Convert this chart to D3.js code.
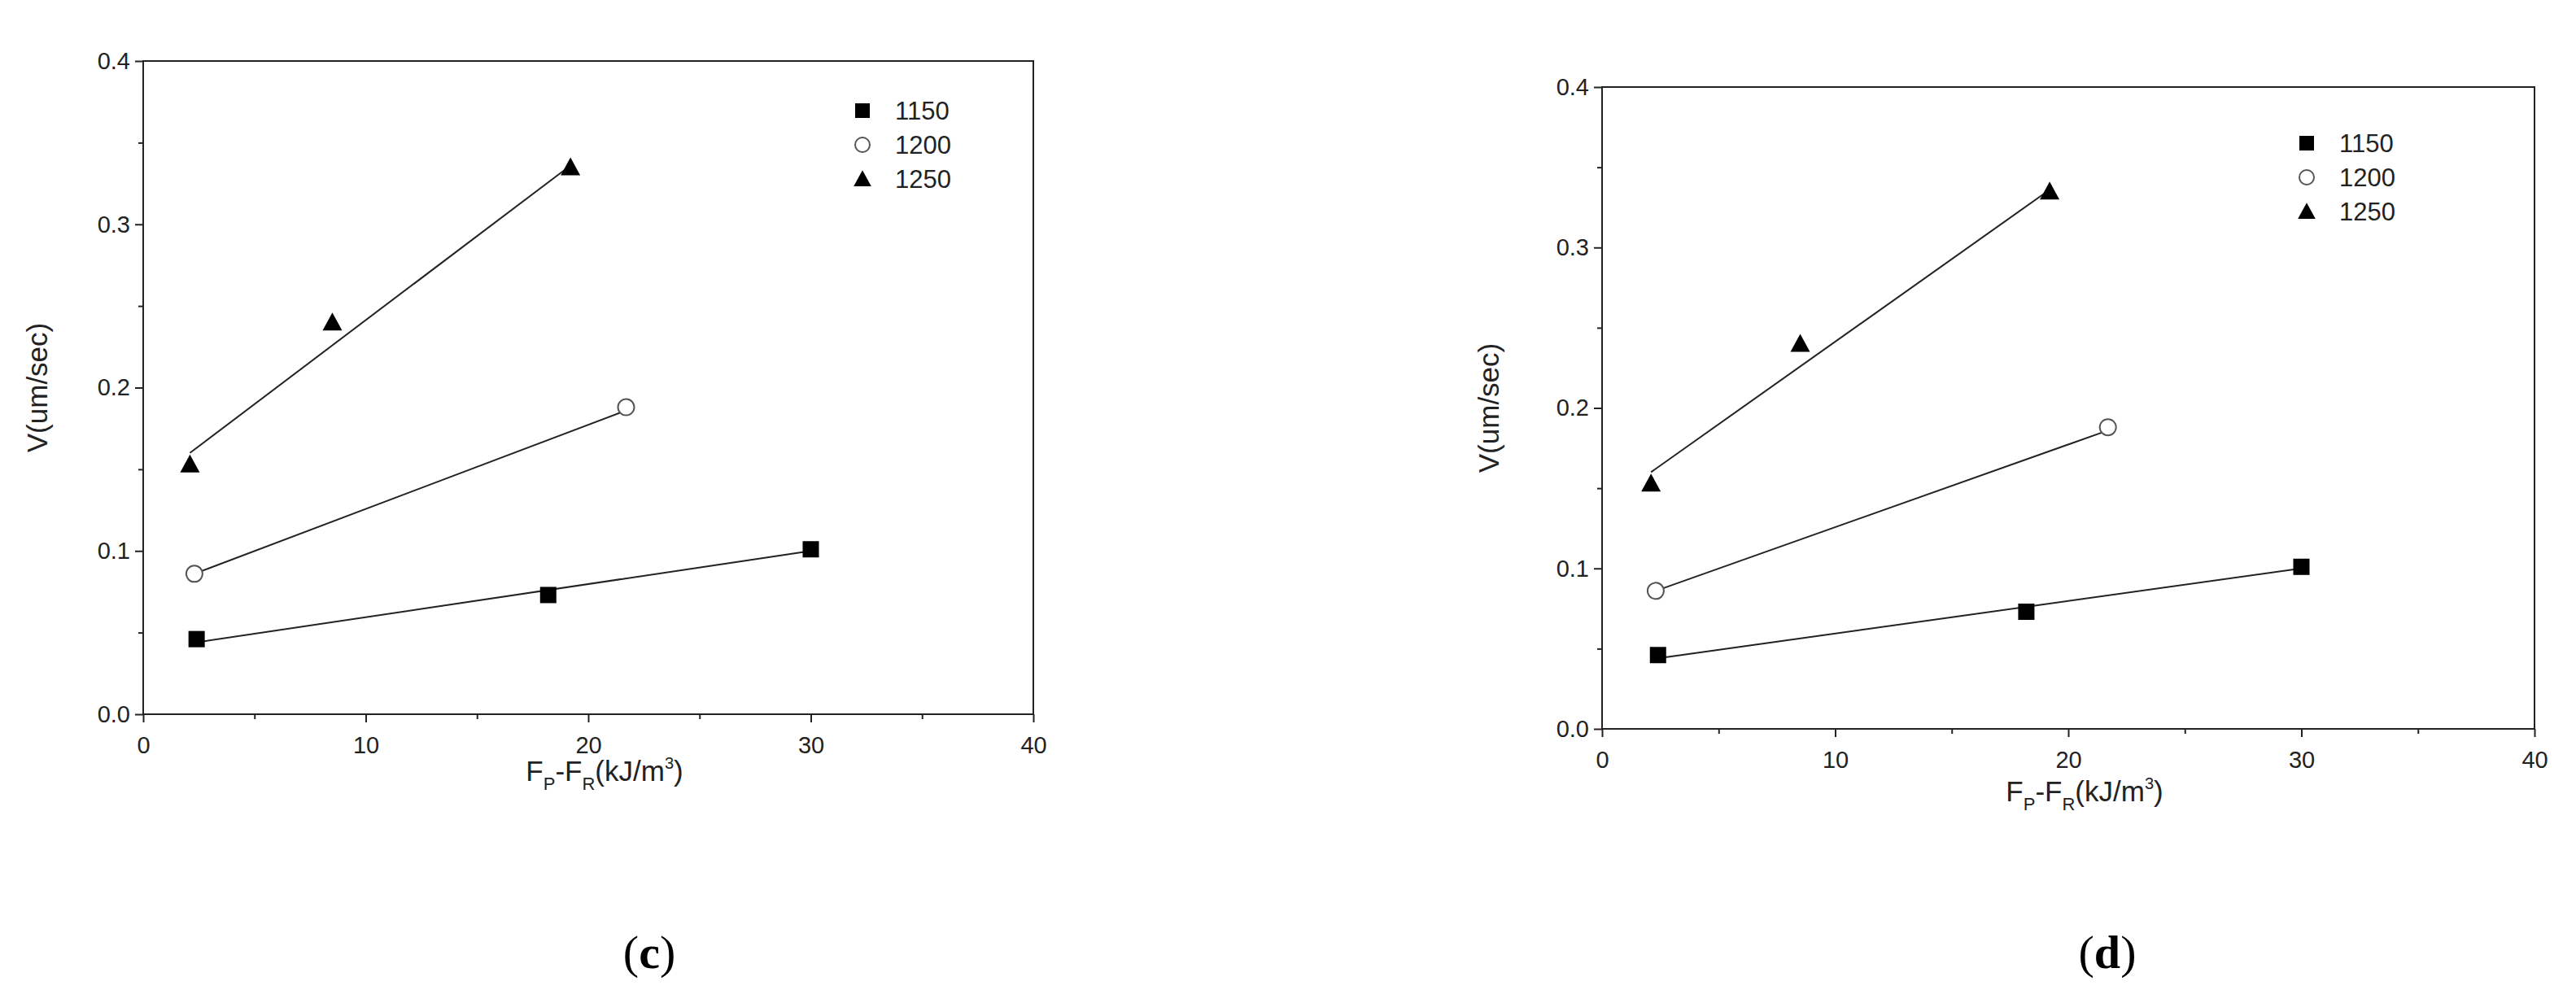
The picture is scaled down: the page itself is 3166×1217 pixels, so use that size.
<!DOCTYPE html><html><head><meta charset="utf-8">
<script src="https://cdn.jsdelivr.net/npm/d3@7"></script>
<style>body{margin:0;background:#fff}</style></head><body>
<svg id="c" width="3166" height="1217"></svg>
<script>
const seriesNames=["1150","1200","1250"];
const s1150=[[2.4,0.046],[18.2,0.073],[30,0.101]];
const s1200=[[2.3,0.086],[21.7,0.188]];
const s1250=[[2.1,0.153],[8.5,0.240],[19.2,0.335]];
const fit1150=[[2.4,0.044],[30,0.100]];
const fit1200=[[2.3,0.086],[21.7,0.186]];
const fit1250=[[2.1,0.160],[19.2,0.336]];
const xTicks=[0,10,20,30,40];
const yTicks=[0.0,0.1,0.2,0.3,0.4];
const panels=[
 {x0:176,x1:1270,y0:878,y1:75,label:"c",lx:798,ly:1190,legX:1060,legY:136,titleY:960,ytX:58},
 {x0:1969,x1:3115,y0:896,y1:107,label:"d",lx:2590,ly:1190,legX:2835,legY:176,titleY:985,ytX:1842}
];
const svg=d3.select("#c");
const font="Arial, Liberation Sans, sans-serif";
function marker(g,type,x,y,s){
 if(type===0) g.append("rect").attr("x",x-s).attr("y",y-s).attr("width",2*s).attr("height",2*s).attr("fill","#000");
 else if(type===1) g.append("circle").attr("cx",x).attr("cy",y).attr("r",s).attr("fill","#fff").attr("stroke","#555").attr("stroke-width",2);
 else g.append("path").attr("d",`M${x},${y-s*1.2}L${x+s*1.2},${y+s}L${x-s*1.2},${y+s}Z`).attr("fill","#000");
}
panels.forEach(p=>{
 const g=svg.append("g");
 const x=d3.scaleLinear().domain([0,40]).range([p.x0,p.x1]);
 const y=d3.scaleLinear().domain([0,0.4]).range([p.y0,p.y1]);
 g.append("rect").attr("x",p.x0).attr("y",p.y1).attr("width",p.x1-p.x0).attr("height",p.y0-p.y1).attr("fill","none").attr("stroke","#222").attr("stroke-width",2);
 const xa=g.append("g").attr("transform",`translate(0,${p.y0})`).call(d3.axisBottom(x).tickValues(xTicks).tickSize(10).tickSizeOuter(0).tickFormat(d3.format("d")));
 const xm=g.append("g").attr("transform",`translate(0,${p.y0})`).call(d3.axisBottom(x).tickValues([5,15,25,35]).tickSize(6).tickFormat(""));
 const ya=g.append("g").attr("transform",`translate(${p.x0},0)`).call(d3.axisLeft(y).tickValues(yTicks).tickSize(10).tickSizeOuter(0).tickFormat(d3.format(".1f")));
 const ym=g.append("g").attr("transform",`translate(${p.x0},0)`).call(d3.axisLeft(y).tickValues([0.05,0.15,0.25,0.35]).tickSize(6).tickFormat(""));
 [xa,xm,ya,ym].forEach(a=>{a.select(".domain").remove();a.selectAll("line").attr("stroke","#222").attr("stroke-width",2);a.selectAll("text").attr("font-family",font).attr("font-size",29).attr("fill","#222");});
 xa.selectAll("text").attr("dy","1.2em");
 ya.selectAll("text").attr("x",-16);
 const line=d3.line().x(d=>x(d[0])).y(d=>y(d[1]));
 [fit1150,fit1200,fit1250].forEach(f=>g.append("path").attr("d",line(f)).attr("stroke","#222").attr("stroke-width",2).attr("fill","none"));
 [s1150,s1200,s1250].forEach((s,i)=>s.forEach(d=>marker(g,i,x(d[0]),y(d[1]),10)));
 seriesNames.forEach((n,i)=>{
  const yy=p.legY+i*42;
  marker(g,i,p.legX,yy,9);
  g.append("text").attr("x",p.legX+40).attr("y",yy+11).text(n).attr("font-family",font).attr("font-size",31).attr("fill","#222");
 });
 const t=g.append("text").attr("x",(p.x0+p.x1)/2+20).attr("y",p.titleY).attr("text-anchor","middle").attr("font-family",font).attr("font-size",35).attr("fill","#222");
 t.append("tspan").text("F");t.append("tspan").text("P").attr("font-size",22).attr("dy",11);
 t.append("tspan").text("-F").attr("dy",-11);t.append("tspan").text("R").attr("font-size",22).attr("dy",11);
 t.append("tspan").text("(kJ/m").attr("dy",-11);t.append("tspan").text("3").attr("font-size",20).attr("dy",-15);
 t.append("tspan").text(")").attr("dy",15);
 g.append("text").attr("transform",`translate(${p.ytX},${(p.y0+p.y1)/2}) rotate(-90)`).attr("text-anchor","middle").attr("font-family",font).attr("font-size",35).attr("fill","#222").text("V(um/sec)");
 const L=g.append("text").attr("x",p.lx).attr("y",p.ly).attr("text-anchor","middle").attr("font-family","Liberation Serif, serif").attr("font-size",58);
 L.append("tspan").text("(");L.append("tspan").attr("font-weight","bold").text(p.label);L.append("tspan").text(")");
});
</script></body></html>
